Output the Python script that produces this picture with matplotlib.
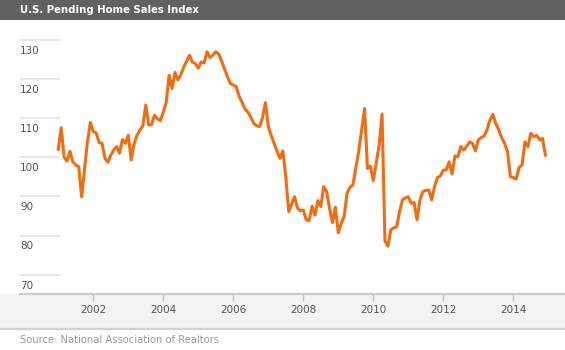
import numpy as np
import pandas as pd
import matplotlib
matplotlib.use("Agg")
import matplotlib.pyplot as plt
from matplotlib.patches import Rectangle
from matplotlib.lines import Line2D

# Pending Home Sales Index, monthly from Jan 2001 (2001 = 100)
idx_2001 = [102, 107.5, 100, 99, 101.5, 98.8, 98, 97.6, 89.9, 97, 104, 108.8]
idx_2002 = [106.5, 106.2, 103.7, 103.5, 99.7, 98.7, 100.5, 101.8, 102.7, 101, 104.5, 103.5]
idx_2003 = [105.6, 99.3, 103.5, 105.6, 106.9, 108, 113.3, 108.2, 108.3, 110.7, 109.8, 109.3]
idx_2004 = [111.5, 114, 120.9, 117.5, 121.6, 119.7, 121, 123, 124.5, 126, 124.2, 123.9]
idx_2005 = [122.7, 124.3, 124, 126.9, 125.4, 126, 126.9, 126.3, 124.5, 122.5, 120.5, 118.8]
idx_2006 = [118.4, 118, 115.5, 114, 112.3, 111.5, 110.2, 108.6, 108, 107.8, 110, 113.9]
idx_2007 = [107.8, 105.5, 103.5, 101.5, 99.7, 101.6, 95, 86.1, 88, 89.9, 87, 86.3]
idx_2008 = [86.5, 84, 83.8, 87.5, 85.2, 88.9, 87.4, 92.5, 91.2, 86.9, 83.3, 87.2]
idx_2009 = [80.7, 83.1, 84.8, 90.8, 92.3, 92.9, 97.2, 101.5, 107, 112.4, 97.1, 97.7]
idx_2010 = [94, 98.5, 103, 111, 78.6, 77.3, 81.4, 82, 82.2, 86.1, 89.1, 89.6]
idx_2011 = [89.9, 88.2, 88.4, 84, 89.1, 91.2, 91.5, 91.6, 89.1, 92.5, 94.8, 95.2]
idx_2012 = [96.7, 96.7, 98.8, 95.7, 100.3, 100.1, 102.7, 101.8, 102.7, 103.9, 103.5, 101.6]
idx_2013 = [104.4, 105, 105.4, 107, 109.5, 110.9, 108.5, 107, 105, 103.5, 101.5, 95]
idx_2014 = [94.8, 94.4, 97.4, 98, 103.9, 102.7, 106.1, 105.2, 105.6, 104.4, 104.8, 100.5]

values = (idx_2001 + idx_2002 + idx_2003 + idx_2004 + idx_2005 + idx_2006 + idx_2007
          + idx_2008 + idx_2009 + idx_2010 + idx_2011 + idx_2012 + idx_2013 + idx_2014)
months = pd.date_range("2001-01-01", periods=len(values), freq="MS")
x = months.year + (months.month - 1) / 12.0

year_ticks = [2002, 2004, 2006, 2008, 2010, 2012, 2014]
y_ticks = [70, 80, 90, 100, 110, 120, 130]

W, H = 565, 350
fig = plt.figure(figsize=(W / 100, H / 100), dpi=100)
fig.patch.set_facecolor("white")

# header bar
fig.patches.append(Rectangle((0, 1 - 20 / H), 1, 20 / H, transform=fig.transFigure,
                             facecolor="#616161", edgecolor="none", zorder=0))
fig.text(20 / W, 1 - 10 / H, "U.S. Pending Home Sales Index", color="white",
         fontsize=7.3, fontweight="bold", ha="left", va="center")

# grey band under the x axis + source line
fig.patches.append(Rectangle((0, (H - 328) / H), 1, 34 / H, transform=fig.transFigure,
                             facecolor="#f3f3f3", edgecolor="none", zorder=0))
fig.lines.append(Line2D([0, 1], [(H - 329) / H] * 2, transform=fig.transFigure,
                        color="#d2d2d2", lw=1.6))
fig.text(20 / W, (H - 340) / H, "Source: National Association of Realtors",
         color="#9a9a9a", fontsize=7.2, ha="left", va="center")

ax = fig.add_axes([20 / W, (H - 293.5) / H, 545 / W, 273.5 / H])
ax.set_facecolor("none")
ax.set_zorder(5)

ax.plot(x, values, color="#f36c10", lw=2.2, solid_joinstyle="round", zorder=3)

ax.set_xlim(1999.906, 2015.477)
ax.set_ylim(65.2, 135)

# short grid stubs on the left with labels beneath them
trans = ax.get_yaxis_transform()
ax.hlines(y_ticks, 0, 40 / 545, transform=trans, color="#e8e8e8", lw=1.5)
for v in y_ticks:
    ax.text(0, v - 2.8, str(v), transform=trans, ha="left", va="center",
            fontsize=7.5, color="#555555")
ax.set_yticks([])

ax.set_xticks(year_ticks)
ax.set_xticklabels([str(y) for y in year_ticks])
ax.tick_params(axis="x", length=5, width=1, color="#c4c4c4", labelsize=7.5,
               labelcolor="#555555", pad=3)

for side in ["top", "left", "right"]:
    ax.spines[side].set_visible(False)
ax.spines["bottom"].set_color("#cccccc")
ax.spines["bottom"].set_linewidth(1.6)

fig.savefig("out.png", dpi=100)
